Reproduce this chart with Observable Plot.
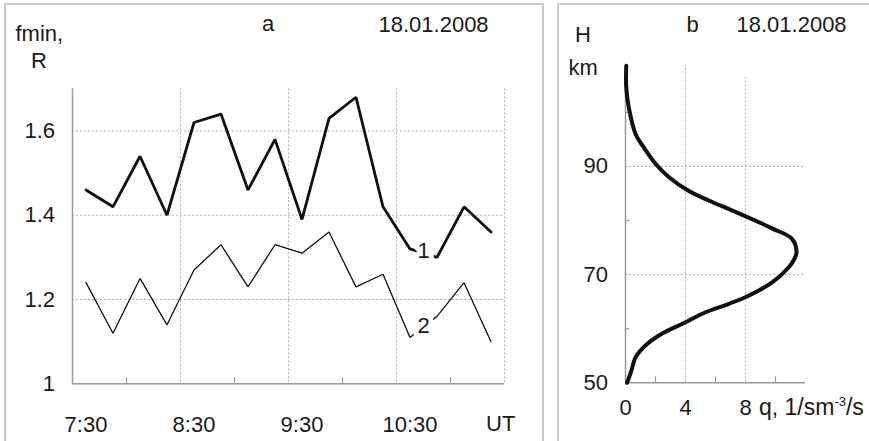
<!DOCTYPE html>
<html><head><meta charset="utf-8">
<script src="https://cdn.jsdelivr.net/npm/d3@7"></script>
<script src="https://cdn.jsdelivr.net/npm/@observablehq/plot@0.6"></script>
<style>
body{margin:0;background:#fff;font-family:"Liberation Sans",Arial,sans-serif;}
#wrap{position:relative;width:869px;height:441px;overflow:hidden;background:#fff;}
.frame{position:absolute;border:2px solid #c9c9c9;box-sizing:border-box;}
.lbl{position:absolute;font-size:22px;color:#1a1a1a;line-height:1;white-space:nowrap;}
.plot{position:absolute;top:0;}
sup{font-size:13px;line-height:0;vertical-align:0;position:relative;top:-9px;}
</style></head><body>
<div id="wrap">
  <div class="frame" style="left:4px;top:3px;width:540px;height:470px;"></div>
  <div class="frame" style="left:557px;top:3px;width:400px;height:470px;"></div>
  <div id="plotA" class="plot" style="left:0px;"></div>
  <div id="plotB" class="plot" style="left:558px;"></div>
  <div class="lbl" style="left:15.5px;top:23px;">fmin,</div>
  <div class="lbl" style="left:31px;top:50px;">R</div>
  <div class="lbl" style="left:262px;top:13px;">a</div>
  <div class="lbl" style="left:378.5px;top:13.5px;">18.01.2008</div>
  <div class="lbl" style="left:486px;top:413px;">UT</div>
  <div class="lbl" style="left:575px;top:24px;">H</div>
  <div class="lbl" style="left:568.5px;top:56.5px;">km</div>
  <div class="lbl" style="left:686.5px;top:13.5px;">b</div>
  <div class="lbl" style="left:736.5px;top:13.5px;">18.01.2008</div>
  <div class="lbl" style="left:759px;top:396px;font-size:23px;">q, 1/sm<sup>-3</sup>/s</div>
</div>
<script>
// ---- Panel a: fmin vs UT ----
const times = ["7:30","7:45","8:00","8:15","8:30","8:45","9:00","9:15","9:30","9:45","10:00","10:15","10:30","10:45","11:00","11:15"];
const fmin1 = [1.46,1.42,1.54,1.40,1.62,1.64,1.46,1.58,1.39,1.63,1.68,1.42,1.32,1.30,1.42,1.36];
const fmin2 = [1.24,1.12,1.25,1.14,1.27,1.33,1.23,1.33,1.31,1.36,1.23,1.26,1.11,1.16,1.24,1.10];
const timeTickLabels = ["7:30","8:30","9:30","10:30"];
const timeGrid = ["8:22:30","9:22:30","10:22:30","11:22:30"];
const timeMinorTicks = ["7:52:30","8:52:30","9:52:30","10:52:30"];
const timeDomain = ["7:22:30","11:22:30"];
const fminTicks = [1, 1.2, 1.4, 1.6];
const fminGrid = [1.2, 1.4, 1.6];
const fminDomain = [1, 1.7];
const seriesNames = ["1","2"];
const seriesLabelTime = ["10:37:30","10:37:30"];
const seriesLabelValue = [1.315, 1.137];

// ---- Panel b: q vs H ----
const heightKm = [50, 52.3, 54.7, 56.9, 59.1, 60.9, 63.0, 64.6, 66.1, 68.6, 71.4, 72.6, 74.1, 76.6, 78.5, 79.8, 80.9, 82.1, 83.7, 85.5, 88.0, 90.5, 93.5, 96.0, 100.9, 104.6, 108.6];
const qRate   = [0.1, 0.4, 0.67, 1.33, 2.45, 3.8, 5.3, 6.9, 8.2, 9.8, 10.9, 11.2, 11.4, 11.1, 9.8, 8.8, 7.9, 6.9, 5.55, 4.2, 2.9, 2.0, 1.22, 0.67, 0.22, 0.05, 0.05];
const qTicks = [0, 4, 8];
const qGrid = [4, 8];
const qGridTop = [108.6, 106.4];
const qMinorTicks = [2, 6, 10];
const qDomain = [0, 12];
const hTicks = [50, 70, 90];
const hGrid = [70, 90];
const hMinorTicks = [60, 80, 100];
const hDomain = [50, 110];

const toMin = s => { const p = s.split(":").map(Number); return p[0]*60 + p[1] + (p[2]||0)/60; };
const fmtTime = m => { const h = Math.floor(m/60), mm = Math.round(m - h*60); return h + ":" + String(mm).padStart(2,"0"); };

const dataA = times.map((t,i) => ({t: toMin(t), v1: fmin1[i], v2: fmin2[i]}));
const labelsA = seriesNames.map((n,i) => ({n, t: toMin(seriesLabelTime[i]), v: seriesLabelValue[i]}));
const gridCol = "#b5b5b5", axisCol = "#9a9a9a", ink = "#111";

const plotA = Plot.plot({
  width: 542, height: 441,
  marginLeft: 72, marginRight: 38, marginTop: 88.3, marginBottom: 57.7,
  x: {type: "linear", domain: timeDomain.map(toMin)},
  y: {domain: fminDomain},
  style: {fontFamily: "'Liberation Sans', Arial, sans-serif", fontSize: "22px", color: "#1a1a1a", background: "transparent", overflow: "visible"},
  marks: [
    Plot.ruleY(fminGrid, {stroke: gridCol, strokeWidth: 1, strokeDasharray: "2,2"}),
    Plot.ruleX(timeGrid.map(toMin), {stroke: gridCol, strokeWidth: 1, strokeDasharray: "2,2"}),
    Plot.ruleX(timeMinorTicks.map(toMin), {y1: fminDomain[0], y2: fminDomain[0], insetTop: -6, stroke: axisCol, strokeWidth: 1.2}),
    Plot.ruleY([fminDomain[0]], {stroke: axisCol, strokeWidth: 1.5}),
    Plot.ruleX([toMin(timeDomain[0])], {stroke: axisCol, strokeWidth: 1.5}),
    Plot.line(dataA, {x: "t", y: "v1", stroke: ink, strokeWidth: 2.8, strokeLinejoin: "miter"}),
    Plot.line(dataA, {x: "t", y: "v2", stroke: ink, strokeWidth: 1.3, strokeLinejoin: "miter"}),
    Plot.text(labelsA, {x: "t", y: "v", text: "n", fill: "#1a1a1a", stroke: "white", strokeWidth: 10, fontSize: 22}),
    Plot.axisY(fminTicks, {tickSize: 0, tickPadding: 17.5, tickFormat: d => String(d), label: null}),
    Plot.axisX(timeTickLabels.map(toMin), {tickSize: 0, tickPadding: 32.5, tickFormat: fmtTime, label: null})
  ]
});
document.getElementById("plotA").appendChild(plotA);

const dataB = heightKm.map((h,i) => ({h, q: qRate[i]}));
const gridB = qGrid.map((q,i) => ({q, top: qGridTop[i]}));
const plotB = Plot.plot({
  width: 311, height: 441,
  marginLeft: 67, marginRight: 64, marginTop: 57.7, marginBottom: 58.7,
  x: {domain: qDomain},
  y: {domain: hDomain},
  style: {fontFamily: "'Liberation Sans', Arial, sans-serif", fontSize: "22px", color: "#1a1a1a", background: "transparent", overflow: "visible"},
  marks: [
    Plot.ruleY(hGrid, {x1: qDomain[0], x2: qDomain[1], stroke: gridCol, strokeWidth: 1, strokeDasharray: "2,2"}),
    Plot.ruleX(gridB, {x: "q", y1: hDomain[0], y2: "top", stroke: gridCol, strokeWidth: 1, strokeDasharray: "2,2"}),
    Plot.ruleX(qMinorTicks, {y1: hDomain[0], y2: hDomain[0], insetTop: -6, stroke: axisCol, strokeWidth: 1.2}),
    Plot.ruleY(hMinorTicks, {x1: qDomain[0], x2: qDomain[0], insetRight: -4, stroke: axisCol, strokeWidth: 1.2}),
    Plot.ruleY([hDomain[0]], {x1: qDomain[0], x2: qDomain[1], stroke: axisCol, strokeWidth: 1.5}),
    Plot.ruleX([qDomain[0]], {y1: hDomain[0], y2: d3.max(heightKm), stroke: axisCol, strokeWidth: 1.5}),
    Plot.line(dataB, {x: "q", y: "h", curve: "catmull-rom", stroke: ink, strokeWidth: 4}),
    Plot.axisY(hTicks, {tickSize: 0, tickPadding: 17.5, label: null}),
    Plot.axisX(qTicks, {tickSize: 0, tickPadding: 16.5, label: null})
  ]
});
document.getElementById("plotB").appendChild(plotB);
</script>
</body></html>
